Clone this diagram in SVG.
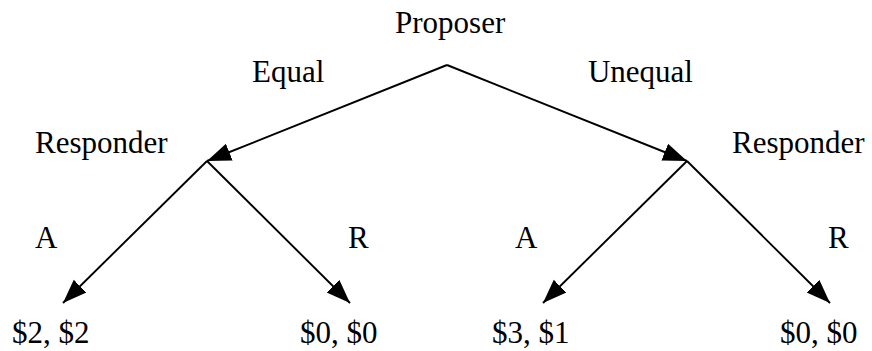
<svg xmlns="http://www.w3.org/2000/svg" width="872" height="351" viewBox="0 0 872 351">
<style>
text{font-family:"Liberation Serif","Times New Roman",serif;font-size:31px;fill:#000}
.e{stroke:#000;stroke-width:1.9;fill:none;marker-end:url(#ah)}
</style>
<defs>
<marker id="ah" markerUnits="userSpaceOnUse" markerWidth="26" markerHeight="20" refX="24" refY="9" orient="auto" viewBox="0 0 26 18">
<path d="M0,0 L24,9 L0,18 Z" fill="#000"/>
</marker>
</defs>
<rect width="872" height="351" fill="#fff"/>
<g id="connectors">
<line class="e" x1="447" y1="65" x2="207" y2="161"/>
<line class="e" x1="447" y1="65" x2="687" y2="161"/>
<line class="e" x1="207" y1="161" x2="63" y2="303"/>
<line class="e" x1="207" y1="161" x2="350" y2="303"/>
<line class="e" x1="687" y1="161" x2="543" y2="303"/>
<line class="e" x1="687" y1="161" x2="830" y2="303"/>
</g>
<g id="proposer"><text x="395" y="33">Proposer</text></g>
<g id="equal"><text x="252" y="82">Equal</text></g>
<g id="unequal"><text x="693" y="82" text-anchor="end">Unequal</text></g>
<g id="responder-left"><text x="35" y="153">Responder</text></g>
<g id="responder-right"><text x="732" y="153">Responder</text></g>
<g id="a-left"><text x="35" y="248">A</text></g>
<g id="r-left"><text x="348" y="248">R</text></g>
<g id="a-right"><text x="515" y="248">A</text></g>
<g id="r-right"><text x="828" y="248">R</text></g>
<g id="leaf1"><text x="12" y="343">$2, $2</text></g>
<g id="leaf2"><text x="300" y="343">$0, $0</text></g>
<g id="leaf3"><text x="492" y="343">$3, $1</text></g>
<g id="leaf4"><text x="780" y="343">$0, $0</text></g>
</svg>
